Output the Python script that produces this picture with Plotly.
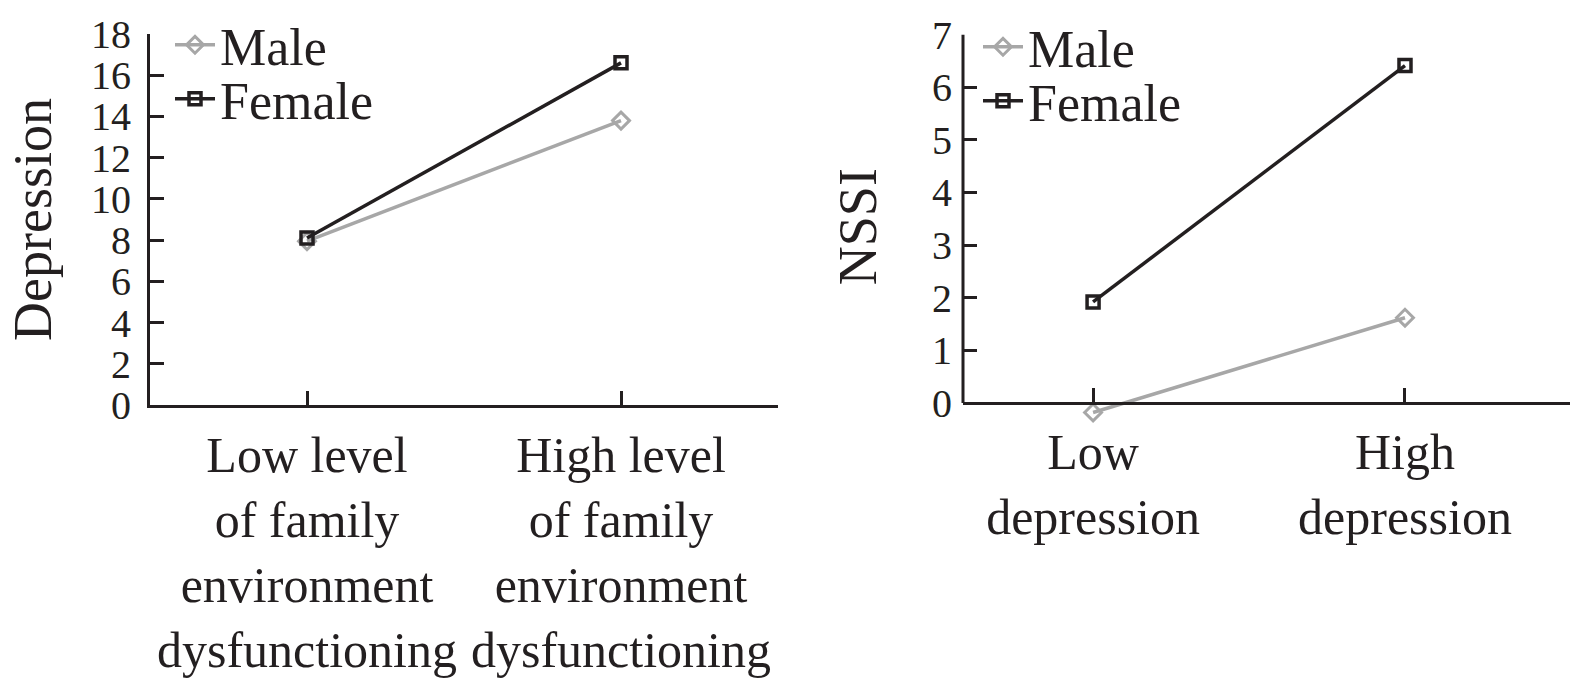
import plotly.graph_objects as go

# ---- data ----
left_categories = ["Low level<br>of family<br>environment<br>dysfunctioning",
                   "High level<br>of family<br>environment<br>dysfunctioning"]
left_male = [7.95, 13.8]
left_female = [8.1, 16.6]

right_categories = ["Low<br>depression", "High<br>depression"]
right_male = [-0.18, 1.62]
right_female = [1.92, 6.41]

left_yticks = list(range(0, 19, 2))
right_yticks = list(range(0, 8, 1))

MALE_COLOR = "#a7a7a7"
FEMALE_COLOR = "#231f20"
AXIS_COLOR = "#231f20"
FONT = "Liberation Serif"

fig = go.Figure()

def add_pair(cats, male, female, xa, ya, lg_m, lg_f):
    fig.add_trace(go.Scatter(
        x=cats, y=male, name="Male", mode="lines+markers",
        xaxis=xa, yaxis=ya, legend=lg_m, cliponaxis=False,
        line=dict(color=MALE_COLOR, width=3.5),
        marker=dict(symbol="diamond-open", size=13, color=MALE_COLOR,
                    line=dict(width=3, color=MALE_COLOR))))
    fig.add_trace(go.Scatter(
        x=cats, y=female, name="Female", mode="lines+markers",
        xaxis=xa, yaxis=ya, legend=lg_f, cliponaxis=False,
        line=dict(color=FEMALE_COLOR, width=3.5),
        marker=dict(symbol="square-open", size=12, color=FEMALE_COLOR,
                    line=dict(width=3.5, color=FEMALE_COLOR))))

add_pair(left_categories, left_male, left_female, "x", "y", "legend", "legend2")
add_pair(right_categories, right_male, right_female, "x2", "y2", "legend3", "legend4")

W, H = 1575, 688
def px_x(p):
    return p / W
def px_y(p):
    return 1 - p / H

# left panel geometry
L_x0, L_x1 = 150, 778
L_y0, L_y1 = 405, 34
# right panel geometry
R_x0, R_x1 = 963, 1570
R_zero_px, R_top_px = 403, 34.5
R_ymin, R_ymax = -0.3, 7
ppu = (R_zero_px - R_top_px) / R_ymax
R_bottom_px = R_zero_px + (-R_ymin) * ppu

axis_common = dict(showgrid=False, zeroline=False, ticks="inside", ticklen=14,
                   tickwidth=3, tickcolor=AXIS_COLOR, linecolor=AXIS_COLOR,
                   linewidth=3, fixedrange=True, automargin=False)

fig.update_layout(
    width=W, height=H, margin=dict(l=0, r=0, t=0, b=0, autoexpand=False),
    paper_bgcolor="white", plot_bgcolor="white",
    font=dict(family=FONT, color=AXIS_COLOR),
    xaxis=dict(domain=[px_x(L_x0), px_x(L_x1)], range=[-0.5, 1.5], type="category",
               anchor="y", showline=True, tickfont=dict(size=50),
               ticklabelstandoff=4, **axis_common),
    yaxis=dict(domain=[px_y(L_y0), px_y(L_y1)], range=[0, 18], anchor="x",
               tickvals=left_yticks, showline=True, tickfont=dict(size=40),
               ticklabelstandoff=8,
               title=dict(text="Depression", font=dict(size=54), standoff=23),
               **axis_common),
    xaxis2=dict(domain=[px_x(R_x0), px_x(R_x1)], range=[-0.417, 1.529], type="category",
                anchor="free", position=px_y(R_zero_px), showline=True,
                tickfont=dict(size=50), ticklabelstandoff=4, **axis_common),
    yaxis2=dict(domain=[px_y(R_bottom_px), px_y(R_top_px)], range=[R_ymin, R_ymax],
                anchor="x2", tickvals=right_yticks, showline=False,
                tickfont=dict(size=40), ticklabelstandoff=10,
                title=dict(text="NSSI", font=dict(size=54), standoff=38),
                **axis_common),
    shapes=[dict(type="line", xref="x2 domain", yref="y2", x0=0, x1=0,
                 y0=0, y1=R_ymax, line=dict(color=AXIS_COLOR, width=3))],
    showlegend=True,
)

leg_common = dict(font=dict(size=52, family=FONT, color=AXIS_COLOR),
                  bgcolor="rgba(0,0,0,0)", xanchor="left", yanchor="middle",
                  borderwidth=0, itemwidth=40)
fig.update_layout(
    legend=dict(x=px_x(170), y=px_y(45), **leg_common),
    legend2=dict(x=px_x(170), y=px_y(99), **leg_common),
    legend3=dict(x=px_x(978), y=px_y(47), **leg_common),
    legend4=dict(x=px_x(978), y=px_y(101), **leg_common),
)

fig.write_html("out.html")
